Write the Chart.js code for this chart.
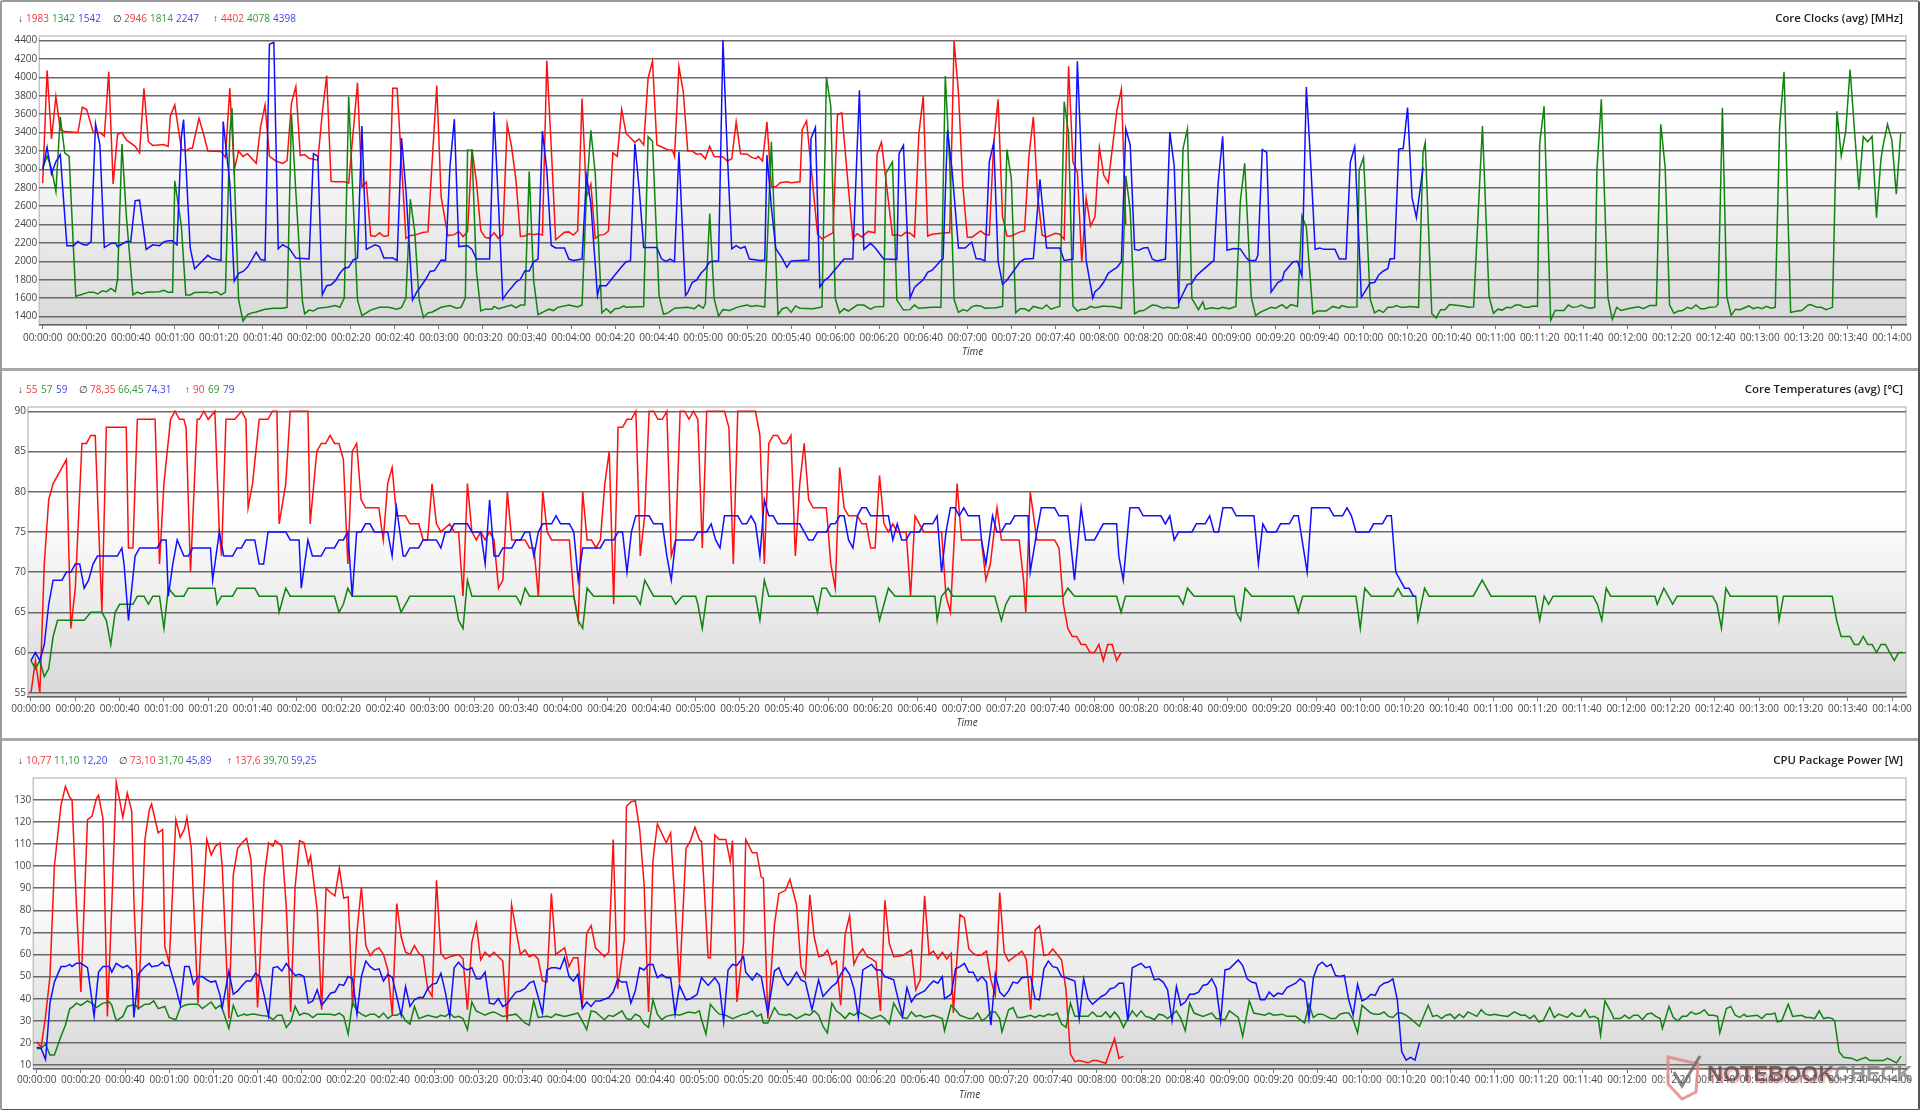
<!DOCTYPE html>
<html>
<head>
<meta charset="utf-8">
<title>Core clocks, temperatures and package power</title>
<script src="https://cdn.jsdelivr.net/npm/chart.js@4"></script>
<style>
html, body { margin: 0; padding: 0; background: #fff; }
body { position: relative; width: 1920px; height: 1110px; overflow: hidden; font-family: "Open Sans", sans-serif; }
canvas { position: absolute; left: 0; }
.frame { position: absolute; left: 0; top: 0; width: 1916px; height: 1107px; border: 2px solid #9a9a9a; border-radius: 3px; border-bottom-color: #555; border-right-color: #555; }
.sep { position: absolute; left: 0; width: 1920px; height: 3px; background: #a8a8a8; }
.stats { position: absolute; font-size: 10px; line-height: 14px; white-space: nowrap; }
.stats span { position: absolute; top: 0; }
.ptitle { position: absolute; right: 17px; font-size: 11.4px; line-height: 14px; font-weight: 600; color: #1c1c1c; }
.mark { position: absolute; left: 1707px; top: 1061px; font: bold 22px "Liberation Sans", sans-serif; white-space: nowrap; color: rgba(85,70,70,.78); text-shadow: 2px 2px 2px rgba(225,110,110,.55); }
.mark b { color: rgba(120,120,120,.75); text-shadow: none; }
</style>
</head>
<body>
<canvas id="clockChart" width="1920" height="368" style="top:0"></canvas>
<canvas id="tempChart" width="1920" height="367" style="top:371px"></canvas>
<canvas id="powerChart" width="1920" height="367" style="top:742px"></canvas>
<div class="sep" style="top:368px"></div>
<div class="sep" style="top:738px"></div>
<div class="frame"></div>
<div id="labels"></div>
<svg style="position:absolute;left:1660px;top:1050px" width="60" height="55">
  <path d="M8 7 L38 14 L36 42 L22 49 L8 34 Z" fill="none" stroke="#e08a8a" stroke-width="3" opacity=".85"/>
  <path d="M14 22 L22 36 L40 6" fill="none" stroke="#666" stroke-width="3" opacity=".8"/>
</svg>
<div class="mark">NOTEBOOK<b>CHECK</b></div>
<script>
// [seconds, value] pairs, only the corners of each line
var clockRed = [[0,2850],[2,4075],[4,3330],[6,3790],[8,3430],[10,3410],[16,3400],[18,3675],[20,3650],[23,3400],[26,3400],[28,3360],[30,4060],[32,2840],[34,3380],[36,3400],[38,3320],[42,3250],[44,3180],[46,3880],[48,3300],[50,3260],[55,3270],[57,3250],[58,3580],[60,3700],[63,3220],[65,3200],[67,3230],[68,3230],[71,3555],[73,3390],[75,3200],[81,3195],[83,3130],[85,3880],[87,2990],[89,3200],[91,3140],[93,3170],[97,3065],[99,3465],[101,3700],[103,3140],[106,3090],[109,3065],[111,3095],[113,3720],[115,3900],[117,3150],[119,3160],[121,3120],[125,3100],[127,3610],[129,4020],[131,2870],[133,2865],[137,2865],[139,2850],[143,3940],[145,2810],[147,2860],[149,2280],[151,2270],[153,2310],[155,2270],[157,2280],[159,3880],[161,3880],[165,2250],[167,2280],[169,2285],[173,2315],[175,2320],[179,3910],[181,2700],[184,2280],[187,2290],[189,2325],[191,2270],[193,2325],[195,3220],[197,2870],[199,2335],[201,2260],[203,2250],[205,2310],[207,2250],[209,2290],[211,3490],[213,3245],[215,2880],[217,2270],[219,2275],[221,2300],[223,2290],[225,2300],[227,2285],[229,4180],[231,3245],[233,2235],[235,2275],[237,2315],[239,2320],[241,2285],[243,2330],[245,3770],[247,2700],[249,2840],[251,2250],[253,2285],[255,2290],[257,2330],[259,3180],[261,3140],[263,3650],[265,3390],[269,3295],[271,3330],[273,3265],[275,3990],[277,4175],[279,3265],[281,3245],[284,3210],[286,3210],[287,3140],[289,4120],[291,3840],[293,3200],[295,3200],[297,3165],[299,3170],[301,3115],[303,3250],[305,3140],[309,3135],[311,3090],[313,3115],[315,3515],[317,3170],[320,3165],[322,3130],[324,3115],[325,3140],[327,3090],[329,3515],[331,2810],[333,2810],[335,2855],[338,2865],[340,2855],[344,2865],[345,3430],[347,3525],[352,2290],[354,2245],[359,2310],[361,3590],[363,3615],[368,2250],[370,2300],[372,2265],[375,2325],[378,2310],[379,3165],[381,3295],[386,2285],[388,2290],[390,2275],[392,2315],[394,2305],[396,2265],[398,3390],[400,3795],[402,2275],[404,2295],[410,2310],[412,2310],[414,4400],[416,3825],[418,2810],[420,2265],[422,2260],[426,2330],[428,2295],[430,2285],[432,3280],[434,3760],[436,2485],[438,2275],[440,2275],[444,2320],[446,2330],[448,3145],[450,3570],[452,2700],[454,2285],[456,2265],[460,2305],[462,2295],[464,2240],[466,4120],[468,3080],[470,2970],[472,1990],[474,2690],[476,2385],[478,2485],[480,3235],[482,2935],[484,2855],[488,3645],[490,3870],[492,2395]];
var clockGreen = [[0,3010],[2,3145],[4,3010],[6,2760],[8,3570],[10,3180],[12,3140],[15,1620],[17,1635],[21,1665],[23,1665],[25,1645],[27,1680],[29,1670],[31,1705],[33,1670],[34,1800],[36,3275],[38,2490],[41,1635],[43,1665],[45,1645],[47,1665],[53,1670],[55,1685],[57,1665],[59,1665],[60,2875],[63,2380],[65,1635],[67,1635],[69,1660],[75,1665],[76,1655],[79,1670],[81,1635],[83,1665],[85,3395],[86,3665],[89,1580],[91,1350],[93,1420],[95,1440],[97,1450],[101,1480],[105,1490],[109,1490],[111,1500],[113,3600],[115,2750],[118,1560],[119,1430],[121,1470],[123,1460],[125,1490],[129,1500],[133,1520],[135,1500],[137,1600],[139,3790],[141,2670],[143,1580],[145,1410],[147,1440],[149,1470],[153,1500],[157,1500],[161,1480],[163,1500],[165,1600],[167,2675],[169,2320],[171,1580],[173,1390],[175,1440],[177,1450],[181,1500],[185,1520],[188,1490],[190,1500],[192,1600],[193,3210],[195,3205],[197,1900],[199,1460],[201,1480],[204,1480],[205,1510],[207,1485],[213,1525],[215,1495],[217,1525],[219,1525],[221,2975],[223,1795],[225,1420],[230,1480],[232,1465],[234,1500],[239,1525],[243,1505],[245,1525],[247,2735],[249,3425],[251,2955],[254,1440],[256,1485],[258,1440],[260,1485],[262,1490],[264,1515],[265,1500],[273,1510],[275,3355],[277,3305],[280,1625],[282,1425],[284,1440],[287,1490],[293,1500],[296,1485],[298,1525],[300,1490],[301,1535],[303,2520],[305,1595],[307,1405],[309,1475],[312,1465],[316,1505],[320,1525],[322,1510],[324,1520],[328,1505],[331,3300],[334,1420],[336,1485],[338,1500],[340,1445],[342,1515],[344,1490],[350,1485],[354,1505],[356,4005],[358,3680],[360,1595],[362,1440],[364,1485],[366,1460],[370,1525],[373,1525],[376,1480],[378,1505],[382,1510],[383,2955],[386,3080],[388,1580],[391,1470],[394,1475],[396,1525],[398,1490],[404,1500],[408,1500],[410,4015],[412,3065],[414,1585],[416,1445],[418,1475],[420,1460],[422,1505],[424,1520],[426,1515],[428,1490],[433,1495],[436,1510],[438,3215],[440,2900],[442,1440],[444,1485],[446,1485],[448,1460],[450,1510],[454,1485],[456,1525],[458,1480],[461,1505],[462,1510],[464,3735],[466,3390],[468,1515],[470,1460],[472,1480],[474,1480],[476,1510],[478,1495],[482,1515],[484,1510],[486,1510],[490,1490],[492,2930],[494,2555],[496,1430],[498,1460],[500,1465],[504,1525],[506,1520],[509,1490],[511,1500],[514,1490],[516,1500],[518,3225],[520,3440],[522,1595],[525,1475],[527,1560],[528,1480],[531,1495],[534,1485],[536,1500],[539,1485],[542,1510],[544,2645],[546,3065],[549,1605],[551,1410],[553,1445],[558,1500],[560,1490],[563,1530],[565,1490],[567,1530],[570,1510],[572,2495],[574,2375],[577,1430],[579,1460],[583,1460],[586,1510],[589,1490],[590,1520],[593,1500],[597,1505],[598,2990],[600,3130],[603,1590],[605,1440],[607,1470],[609,1445],[611,1500],[613,1500],[615,1520],[617,1500],[619,1500],[621,1510],[625,1500],[627,3180],[628,3290],[631,1430],[633,1385],[635,1475],[637,1475],[639,1530],[645,1515],[648,1500],[650,1505],[654,3470],[657,1615],[659,1435],[661,1480],[663,1470],[665,1500],[667,1495],[669,1525],[671,1525],[673,1500],[675,1500],[677,1515],[679,1510],[680,3280],[682,3685],[685,1360],[687,1465],[691,1465],[693,1525],[695,1500],[697,1505],[699,1525],[701,1500],[703,1490],[705,1500],[706,2990],[708,3760],[711,1605],[713,1370],[715,1500],[717,1465],[721,1490],[725,1505],[727,1485],[730,1520],[733,1520],[735,3490],[737,3025],[739,1525],[741,1435],[743,1460],[745,1465],[747,1500],[749,1485],[751,1525],[753,1485],[755,1485],[757,1500],[760,1505],[761,1535],[763,3670],[765,1615],[767,1415],[769,1480],[771,1475],[775,1515],[777,1485],[779,1500],[781,1485],[783,1510],[785,1490],[787,1500],[789,3460],[791,4060],[794,1445],[797,1460],[799,1465],[802,1525],[803,1530],[806,1500],[808,1500],[810,1475],[813,1500],[815,3630],[817,3145],[819,3410],[821,4085],[823,3425],[825,2780],[827,3355],[829,3300],[831,3360],[833,2475],[835,3105],[836,3260],[838,3490],[840,3315],[842,2730],[844,3390]];
var clockBlue = [[0,3000],[2,3240],[4,2950],[6,3085],[8,3160],[11,2170],[14,2170],[16,2215],[18,2185],[20,2175],[22,2215],[24,3495],[26,3265],[28,2150],[31,2195],[33,2200],[34,2160],[38,2215],[40,2215],[42,2660],[44,2665],[47,2130],[50,2180],[53,2170],[55,2210],[57,2225],[59,2225],[61,2180],[63,3355],[64,3540],[67,2145],[69,1920],[75,2065],[77,2030],[81,2010],[82,3520],[85,2850],[87,1785],[89,1870],[91,1890],[93,1935],[97,2100],[99,2020],[101,2010],[103,4360],[105,4380],[107,2135],[109,2180],[112,2140],[115,2035],[121,2025],[123,3170],[125,3140],[127,1635],[129,1735],[131,1745],[133,1790],[135,1870],[137,1925],[139,1935],[141,2015],[143,2035],[145,3470],[147,2130],[151,2180],[153,2160],[155,2035],[159,2035],[161,2010],[163,3340],[165,2775],[168,1580],[170,1670],[174,1805],[176,1890],[178,1900],[181,2015],[183,2010],[185,3030],[187,3545],[189,2160],[193,2170],[195,2130],[197,2025],[203,2025],[205,3625],[207,2645],[209,1590],[211,1660],[213,1715],[215,1775],[217,1805],[219,1895],[221,1895],[223,1995],[225,2025],[227,3415],[229,2990],[231,2175],[233,2145],[237,2145],[239,2025],[241,2010],[245,2025],[247,2925],[249,2630],[252,1630],[253,1735],[256,1735],[260,1855],[263,1940],[265,1995],[267,2005],[269,3280],[271,2775],[273,2150],[279,2150],[281,2030],[283,2000],[285,2025],[287,1995],[289,3190],[292,1630],[293,1660],[295,1770],[297,1795],[299,1870],[301,1920],[303,1995],[307,2005],[309,4400],[311,3170],[313,2135],[315,2170],[317,2140],[319,2160],[321,2025],[326,2010],[328,2015],[329,3155],[331,2590],[333,2140],[336,2030],[338,1935],[340,2005],[348,2015],[349,3335],[351,3455],[353,1720],[355,1790],[357,1825],[359,1885],[364,2025],[368,2025],[371,3860],[373,2130],[376,2195],[378,2150],[379,2120],[382,2025],[388,2020],[389,3170],[391,3260],[394,1600],[396,1715],[398,1760],[400,1800],[402,1880],[404,1905],[406,1955],[408,2010],[409,2025],[411,3425],[413,3010],[416,2145],[419,2145],[422,2210],[424,2030],[426,2025],[428,2005],[430,3080],[432,3290],[434,2000],[436,1750],[438,1795],[444,1995],[446,2025],[450,2030],[452,2590],[453,2890],[456,2145],[462,2145],[464,2010],[468,2025],[470,4175],[472,2990],[474,2010],[477,1600],[478,1670],[480,1710],[482,1775],[484,1870],[486,1905],[488,1935],[490,1995],[492,3440],[494,3265],[496,2130],[498,2120],[500,2145],[502,2150],[504,2025],[506,2005],[510,2025],[512,3405],[514,3035],[516,1550],[520,1750],[522,1760],[524,1840],[526,1885],[530,1970],[532,2010],[534,2865],[536,3360],[538,2120],[541,2140],[544,2135],[547,2030],[548,2010],[551,2010],[552,2065],[554,3215],[556,3185],[558,1665],[561,1770],[563,1795],[564,1885],[568,1995],[570,2000],[572,1840],[574,3895],[576,3060],[578,2130],[580,2145],[582,2130],[587,2130],[589,2025],[592,2025],[594,3080],[596,3245],[599,1610],[601,1685],[603,1765],[605,1770],[607,1855],[609,1895],[611,1920],[612,2025],[614,2030],[616,3220],[618,3225],[620,3670],[622,2695],[624,2475],[627,3020]];

var tempRed = [[0,55],[2,59],[4,55],[6,71],[8,79],[10,81],[12,82],[16,84],[18,63],[20,68],[23,86],[25,86],[27,87],[29,87],[32,65],[34,88],[43,88],[44,73],[46,73],[48,89],[56,89],[58,71],[60,81],[63,89],[65,90],[67,89],[69,89],[70,88],[72,70],[75,89],[76,89],[78,90],[80,89],[83,90],[85,75],[86,72],[88,89],[92,89],[95,90],[97,89],[98,78],[100,81],[103,89],[107,89],[109,90],[111,90],[112,76],[115,81],[117,90],[125,90],[126,76],[129,85],[131,86],[133,86],[135,87],[137,86],[139,86],[141,84],[143,71],[145,85],[147,86],[149,79],[151,78],[157,78],[159,74],[161,81],[163,83],[165,77],[169,77],[171,76],[175,76],[177,74],[179,74],[181,81],[183,76],[185,75],[189,76],[191,75],[193,75],[195,67],[197,81],[199,75],[201,74],[203,75],[205,74],[207,75],[209,74],[211,68],[213,69],[215,80],[217,74],[223,74],[225,73],[227,73],[229,67],[231,80],[233,75],[235,74],[243,74],[245,67],[247,64],[249,80],[251,74],[253,74],[255,73],[257,74],[259,81],[261,85],[263,66],[265,88],[267,88],[269,89],[271,89],[273,90],[275,72],[277,77],[279,90],[281,90],[283,89],[285,89],[287,90],[289,72],[291,74],[293,90],[295,90],[297,89],[299,90],[301,89],[303,73],[305,90],[313,90],[315,88],[317,71],[319,90],[327,90],[329,87],[331,71],[333,86],[335,87],[337,87],[339,86],[341,86],[343,87],[345,72],[347,81],[349,86],[351,79],[353,78],[359,78],[361,71],[363,68],[365,83],[367,78],[369,77],[373,77],[375,76],[377,76],[379,73],[381,73],[383,82],[385,76],[387,75],[389,76],[391,75],[395,75],[397,67],[399,77],[403,75],[411,75],[413,67],[415,65],[418,81],[420,74],[429,74],[431,69],[433,71],[436,78],[438,74],[446,74],[448,69],[449,65],[451,80],[454,74],[462,74],[464,73],[466,66],[468,63],[470,62],[472,62],[474,61],[476,61],[478,60],[480,60],[482,61],[484,59],[486,61],[488,61],[490,59],[492,60]];
var tempGreen = [[0,59],[2,58],[4,59],[6,57],[8,58],[10,62],[12,64],[24,64],[27,65],[32,65],[34,64],[36,61],[38,65],[40,66],[46,66],[48,67],[51,67],[53,66],[55,67],[58,67],[60,63],[62,68],[65,67],[69,67],[71,68],[83,68],[84,66],[86,67],[91,67],[93,68],[101,68],[103,67],[111,67],[112,65],[115,68],[117,67],[137,67],[139,65],[141,66],[143,68],[145,67],[165,67],[167,65],[169,66],[171,67],[191,67],[193,64],[195,63],[197,69],[199,67],[219,67],[221,66],[223,68],[225,67],[245,67],[247,64],[249,63],[251,68],[254,67],[273,67],[275,66],[277,69],[281,67],[289,67],[291,66],[294,67],[300,67],[301,66],[303,63],[305,67],[327,67],[329,64],[331,69],[333,67],[353,67],[355,65],[357,68],[359,68],[361,67],[381,67],[383,64],[385,66],[387,68],[390,67],[408,67],[409,64],[411,67],[414,68],[416,67],[435,67],[438,64],[440,66],[442,67],[466,67],[468,68],[471,67],[490,67],[492,65],[494,67],[518,67],[520,66],[522,68],[525,67],[543,67],[544,65],[546,64],[548,68],[551,67],[570,67],[572,65],[574,67],[598,67],[600,63],[602,68],[605,67],[615,67],[617,68],[619,67],[625,67],[626,64],[629,68],[631,67],[651,67],[655,69],[659,67],[679,67],[681,64],[683,67],[685,66],[687,67],[705,67],[707,66],[709,64],[711,68],[713,67],[733,67],[734,66],[737,68],[739,67],[741,66],[743,67],[759,67],[761,66],[763,63],[765,68],[767,67],[788,67],[789,64],[791,67],[813,67],[815,64],[817,62],[821,62],[823,61],[825,61],[827,62],[829,61],[831,61],[833,60],[835,61],[837,61],[839,60],[841,59],[843,60],[845,60]];
var tempBlue = [[0,59],[2,60],[4,59],[6,61],[8,66],[10,69],[14,69],[16,70],[18,70],[20,71],[22,71],[24,68],[26,69],[28,71],[30,72],[39,72],[41,73],[42,71],[44,64],[47,72],[49,73],[57,73],[59,74],[61,74],[62,67],[64,71],[66,74],[69,72],[71,72],[73,73],[81,73],[82,69],[85,75],[87,72],[91,72],[93,73],[95,73],[97,74],[101,74],[103,71],[105,71],[107,75],[115,75],[117,74],[121,74],[122,68],[125,74],[127,72],[131,72],[133,73],[137,73],[139,74],[141,74],[143,75],[145,67],[147,75],[149,75],[151,76],[153,76],[155,75],[161,75],[163,72],[165,78],[168,72],[169,72],[171,73],[175,73],[177,74],[183,74],[185,73],[187,75],[189,75],[191,76],[197,76],[199,75],[203,75],[205,71],[207,79],[209,72],[211,72],[213,73],[217,73],[219,74],[221,74],[223,75],[225,75],[227,72],[229,75],[231,76],[235,76],[237,77],[239,76],[243,76],[245,75],[247,69],[249,73],[257,73],[259,74],[263,74],[265,75],[267,75],[269,70],[271,75],[273,77],[279,77],[281,76],[285,76],[287,72],[289,69],[291,74],[299,74],[301,75],[305,75],[307,76],[309,74],[311,73],[313,77],[319,77],[321,76],[323,76],[325,77],[327,76],[329,72],[331,79],[333,77],[335,77],[337,76],[347,76],[349,75],[351,74],[353,74],[355,75],[359,75],[361,76],[363,76],[365,77],[367,77],[369,74],[371,73],[373,77],[375,78],[377,78],[379,77],[387,77],[389,74],[391,76],[393,74],[395,74],[397,75],[401,75],[403,76],[407,76],[409,77],[411,70],[413,75],[415,78],[417,78],[419,77],[421,78],[423,77],[428,77],[429,74],[431,71],[434,77],[436,75],[438,75],[440,76],[442,76],[444,77],[450,77],[451,70],[454,75],[456,78],[462,78],[464,77],[468,77],[471,69],[474,78],[476,74],[480,74],[484,76],[490,76],[491,72],[493,69],[496,78],[500,78],[502,77],[510,77],[512,76],[514,77],[516,74],[518,75],[524,75],[526,76],[530,76],[532,77],[534,75],[536,75],[538,78],[542,78],[544,77],[552,77],[554,71],[556,76],[558,75],[562,75],[564,76],[568,76],[570,77],[572,77],[576,70],[578,78],[586,78],[588,77],[592,77],[594,78],[596,77],[598,75],[604,75],[606,76],[610,76],[612,77],[614,77],[616,70],[618,69],[620,68],[622,68],[624,67],[625,67]];

var powerRed = [[0,20.5],[2,18],[4,32],[6,50],[8,100],[11,127.5],[13,136],[15,131],[16,130],[18,82],[20,43],[23,121],[25,122.5],[27,130.5],[28,132],[30,121.5],[32,32],[34,82],[36,138],[39,122],[41,133],[43,125],[44,85],[46,35],[49,112],[51,125.5],[52,128],[55,115],[57,116.5],[58,63.5],[60,56],[63,121],[65,113],[67,117],[68,122],[70,108],[73,38],[75,78.5],[77,112],[79,105],[81,109],[83,110.5],[84,100],[87,31],[89,96],[91,108],[93,110.5],[95,112.5],[97,103],[98,83],[100,36],[103,95],[105,110.5],[107,109],[108,111.5],[111,109],[113,81.5],[115,34],[117,90.5],[119,111.5],[121,110.5],[123,101],[124,104.5],[127,80],[129,35],[131,90],[133,88],[135,86.5],[137,99],[139,85.5],[141,86],[143,36],[145,70],[147,90.5],[149,64],[151,59.5],[153,62],[155,63],[157,60],[159,53],[161,32.5],[163,83],[165,68],[167,61],[169,60],[171,64],[173,60.5],[175,59],[177,44.5],[179,41],[181,93.5],[183,60.5],[185,58],[187,59],[191,60],[193,58],[195,35],[197,65.5],[199,74],[201,57.5],[203,61],[205,59],[207,61],[211,57],[213,29.5],[215,82.5],[217,71],[219,60],[221,62],[223,59],[225,60],[227,58],[229,48],[231,47.5],[233,87.5],[235,60],[239,63],[241,54.5],[243,58.5],[245,58.5],[247,36.5],[249,69.5],[251,73],[253,63],[257,59],[259,61],[261,112],[263,44.5],[266,66.5],[267,127],[269,129],[271,129.5],[273,116.5],[275,91.5],[277,34],[279,102.5],[281,119],[285,110.5],[287,115],[289,83],[291,47],[294,108],[296,111.5],[298,117.5],[300,112],[301,111],[304,58.5],[305,58.5],[307,114],[309,112],[312,112],[314,102],[315,111.5],[317,38.5],[320,65],[321,112],[324,106],[326,106],[328,95],[329,94.5],[331,31],[334,73.5],[336,87.5],[339,89],[341,94],[344,82.5],[346,54.5],[348,49.5],[350,87],[352,68],[354,59],[356,59.5],[358,62],[360,55.5],[362,57],[364,37],[366,69],[368,77.5],[370,55.5],[372,60],[374,62.5],[376,59],[378,58],[380,56.5],[382,34.5],[384,84.5],[386,65],[388,59],[392,59.5],[396,62],[398,44],[400,48.5],[402,86.5],[404,60],[406,61.5],[408,58],[410,61],[412,58],[414,60.5],[415,33.5],[418,78],[420,76.5],[422,62.5],[424,60.5],[426,59.5],[428,60],[430,61.5],[432,48.5],[434,41.5],[436,88],[438,61],[440,57],[446,61.5],[448,58],[450,35],[452,71],[454,73],[456,59.5],[458,60],[460,62.5],[464,57.5],[466,44],[468,15],[470,11.5],[472,12],[476,11],[478,12],[480,12],[484,10.8],[488,22],[490,13],[492,14]];
var powerGreen = [[0,17.5],[2,17.5],[4,19.5],[6,14.5],[8,14.5],[11,23],[13,28],[15,35.5],[16,36],[18,38],[20,37],[23,39],[25,38],[27,36],[30,38],[33,38.5],[34,37],[36,30],[39,32],[41,36.5],[43,37],[45,37],[46,35.5],[49,37.5],[51,37.5],[53,39],[55,35.5],[58,36.5],[60,31.5],[63,30.5],[65,36],[67,37],[69,37.5],[73,37.5],[75,35.5],[79,38.5],[81,35.5],[83,37],[84,35.5],[87,26.5],[89,37],[91,32],[94,33],[95,32.5],[97,33],[99,33],[101,32.5],[105,32],[107,30.5],[109,32.5],[111,32.5],[113,27],[115,29.5],[117,36.5],[119,32.5],[121,33.5],[123,33],[125,31.5],[127,33],[129,33],[133,33],[135,32.5],[137,33.5],[139,32],[141,24],[143,38.5],[145,34.5],[147,33],[149,32],[151,33],[153,33],[155,31.5],[157,33.5],[159,31],[161,32.5],[163,32.5],[165,33.5],[167,30],[169,28.5],[171,36.5],[173,31],[177,32.5],[181,31.5],[183,32.5],[185,32],[187,33.5],[189,31.5],[191,32],[193,31],[195,26],[197,38.5],[199,34.5],[201,33.5],[203,32.5],[205,33.5],[207,34],[209,33],[211,32],[217,33],[219,31],[221,29],[223,28],[225,39],[227,31.5],[231,32],[233,31.5],[235,33],[239,32],[243,33],[245,33.5],[247,30],[249,26],[251,34.5],[253,34],[257,30.5],[259,32.5],[261,32],[265,34.5],[267,31],[269,30.5],[271,33],[273,32],[275,28.5],[277,27],[279,39.5],[281,33],[283,30.5],[285,32],[289,33],[291,32.5],[295,34],[298,33.5],[300,34.5],[301,30.5],[303,24],[305,37.5],[307,35],[309,33],[312,32.5],[315,31],[320,33],[321,33],[324,34.5],[326,32],[328,33],[329,29],[331,29],[334,36],[336,33],[339,32.5],[341,33],[344,31],[348,33],[350,32.5],[352,34.5],[354,32.5],[356,27.5],[358,24.5],[360,38],[362,34.5],[364,33],[366,31],[368,33.5],[370,32.5],[372,34],[374,33],[378,31],[382,32.5],[384,31],[386,28.5],[388,38],[390,34.5],[392,31.5],[394,31],[396,34],[398,32],[400,32.5],[402,31.5],[406,32.5],[410,31],[411,25.5],[414,37],[416,35],[418,32.5],[422,31],[424,31],[426,33.5],[428,30],[430,31.5],[432,34],[434,34],[436,31],[437,25],[440,35],[442,36],[444,31.5],[446,31.5],[450,32.5],[452,31.5],[454,32.5],[456,32],[458,33],[460,32.5],[462,33.5],[464,28.5],[466,27],[468,38],[470,32],[476,32],[478,34],[480,32],[482,32],[484,34],[486,31.5],[488,34],[490,31.5],[492,27],[494,31],[496,34.5],[498,32],[500,34.5],[502,32],[504,31.5],[506,30.5],[508,33],[510,32.5],[512,31],[516,34.5],[518,31],[520,25.5],[522,38],[524,33.5],[528,32],[532,33.5],[534,31],[538,30.5],[540,34.5],[544,31.5],[546,23],[549,39],[551,33.5],[556,32.5],[558,33.5],[560,32.5],[564,33],[566,32],[570,32],[574,29],[576,37.5],[578,31.5],[580,33],[582,33],[584,32],[586,31],[588,31],[590,33],[592,33.5],[594,33.5],[596,30.5],[598,24.5],[600,37],[604,33.5],[606,33],[608,33],[610,34],[612,32],[614,31.5],[616,33.5],[618,33.5],[620,32.5],[622,31],[626,27.5],[630,37],[632,32],[634,32.5],[636,31],[638,32.5],[640,33],[642,31],[644,33],[646,31.5],[648,34],[650,33],[652,32],[654,35],[656,33],[658,32.5],[660,33],[662,32.5],[666,32],[669,34],[672,32.5],[674,32.5],[676,31],[678,32.5],[680,29.5],[682,30],[685,36],[687,31.5],[689,33],[693,31.5],[695,33.5],[697,32],[699,32],[701,35],[703,31.5],[705,32],[707,31],[708,23.5],[710,39],[713,33.5],[714,31],[717,31],[719,32.5],[721,31],[723,32.5],[725,32.5],[727,30.5],[729,33],[731,33.5],[733,32],[735,31],[736,26.5],[739,36.5],[741,31.5],[743,30],[745,32],[747,32],[749,34],[751,33],[753,33.5],[755,35],[757,32.5],[759,32.5],[761,32],[762,24.5],[765,35.5],[767,36.5],[769,32.5],[771,31.5],[773,33],[774,32],[779,32.5],[781,31],[783,33],[785,33],[787,33.5],[788,29.5],[790,30],[793,37.5],[795,32],[799,32.5],[801,31.5],[803,31.5],[805,31],[807,34.5],[809,31],[811,31.5],[813,31],[814,30],[816,16],[818,13.5],[822,13],[824,12],[828,13.5],[830,12],[834,12],[836,12],[838,13],[842,11],[844,14]];
var powerBlue = [[0,18],[2,17.5],[4,12.5],[6,38],[8,47.5],[11,54.5],[13,54.5],[15,55.5],[16,54.5],[18,56],[20,56],[23,54],[26,32],[28,52],[30,54.5],[33,54.5],[34,52],[36,56],[39,54],[41,55],[43,53],[44,31.5],[46,51],[49,54.5],[51,56],[52,54.5],[55,55],[57,56.5],[58,55],[60,55],[63,45],[65,37],[67,54.5],[69,54.5],[71,46.5],[73,50],[75,50],[77,48.5],[79,47.5],[81,48],[83,41.5],[84,36],[87,52.5],[89,42],[91,43.5],[93,46],[95,48],[97,48],[99,51.5],[101,50],[103,41.5],[105,32],[107,54],[109,54.5],[111,52.5],[113,56],[115,53],[117,50.5],[119,51],[121,50],[123,38],[125,39],[127,44],[129,37],[131,39.5],[133,42.5],[135,43],[137,46.5],[139,46],[141,50],[143,49],[145,33],[147,50],[149,57],[151,54.5],[153,53],[155,53.5],[157,48],[159,51],[161,49.5],[163,41],[165,32.5],[167,45.5],[169,36.5],[171,39.5],[173,40.5],[175,40.5],[177,44.5],[179,46.5],[181,47],[183,51.5],[185,43],[187,32],[189,54],[191,56.5],[193,54],[195,53],[197,54],[199,49],[201,49],[203,52],[205,38],[207,37.5],[209,40],[211,36.5],[213,37.5],[215,40.5],[217,43],[219,43.5],[221,44.5],[223,47],[225,48],[227,41],[229,33.5],[231,53],[233,54],[235,54],[237,53.5],[239,58.5],[241,50],[243,48],[245,51],[247,35.5],[249,38.5],[251,36.5],[253,39],[255,39],[259,40.5],[261,43],[263,48.5],[265,47.5],[267,47.5],[269,38],[271,43.5],[273,54],[275,53],[277,55.5],[279,55.5],[281,49.5],[283,51],[285,49.5],[287,49.5],[289,33],[291,46],[294,39.5],[296,40],[299,42],[301,49.5],[304,46],[307,49.5],[309,46.5],[311,29.5],[313,53],[315,55.5],[317,55],[320,59],[321,52],[324,48.5],[326,51.5],[328,50],[331,33.5],[334,52.5],[336,54],[338,49],[340,46],[341,47],[344,52],[346,48.5],[348,47.5],[351,35],[354,48.5],[356,41],[360,45.5],[362,47],[364,51],[366,54],[368,51],[370,44.5],[372,31.5],[374,53],[378,55.5],[380,53],[382,53],[384,50],[388,48.5],[389,44],[392,32],[394,45],[396,38.5],[398,41.5],[402,43.5],[404,46],[406,48],[408,47],[410,50],[411,40],[414,42],[416,53.5],[418,54.5],[420,56],[422,52],[424,52],[426,48],[428,50],[430,47.5],[432,28],[434,51],[436,43],[438,41],[440,43.5],[442,47.5],[444,47],[446,49.5],[450,50],[452,40],[454,39.5],[456,53.5],[458,57],[460,54.5],[462,54],[464,50],[466,49.5],[470,48],[472,31],[474,49],[476,40],[478,37.5],[482,41],[484,42],[486,44.5],[488,45],[490,47],[492,47],[494,30],[496,54],[500,56],[502,54],[504,54.5],[506,48.5],[508,49],[510,47.5],[512,44],[514,30],[516,45.5],[518,37],[520,38.5],[522,42],[524,42],[526,43],[528,46],[530,46.5],[532,49],[534,45],[536,30],[538,53],[540,53.5],[544,57.5],[546,55],[548,49],[550,47.5],[552,47],[554,39.5],[556,39.5],[558,43],[560,41],[562,42.5],[564,42],[566,45],[570,47],[572,49],[574,47.5],[576,31],[578,49.5],[580,55],[582,56.5],[584,54.5],[586,55.5],[588,50.5],[590,50],[592,50.5],[594,39.5],[596,32.5],[598,46.5],[600,39],[602,40],[604,42],[606,41.5],[608,45.5],[610,47],[612,47.5],[614,49],[616,39.5],[618,16],[620,12.2],[622,13.5],[624,12.2],[626,20]];

var timeTicks = [0,20,40,60,80,100,120,140,160,180,200,220,240,260,280,300,320,340,360,380,400,420,440,460,480,500,520,540,560,580,600,620,640,660,680,700,720,740,760,780,800,820,840];
var clockTicks = [1400,1600,1800,2000,2200,2400,2600,2800,3000,3200,3400,3600,3800,4000,4200,4400];
var tempTicks = [55,60,65,70,75,80,85,90];
var powerTicks = [10,20,30,40,50,60,70,80,90,100,110,120,130];

var clockStats = [["1983","1342","1542"],["2946","1814","2247"],["4402","4078","4398"]];
var tempStats = [["55","57","59"],["78,35","66,45","74,31"],["90","69","79"]];
var powerStats = [["10,77","11,10","12,20"],["73,10","31,70","45,89"],["137,6","39,70","59,25"]];

var lineColors = ['#ff1010', '#0f840f', '#1010ff'];
var textColors = ['#f5383c', '#2f9a3a', '#3c48f0'];

function timeLabel(sec) {
    var m = Math.floor(sec / 60);
    var s = sec % 60;
    return '00:' + (m < 10 ? '0' : '') + m + ':' + (s < 10 ? '0' : '') + s;
}

// white upper part, then fading to grey, like the logging tool does it
var plotBackground = {
    id: 'plotBackground',
    beforeDraw: function (chart) {
        var a = chart.chartArea;
        var c = chart.ctx;
        var g = c.createLinearGradient(0, a.top, 0, a.bottom);
        g.addColorStop(0, '#ffffff');
        g.addColorStop(0.38, '#ffffff');
        g.addColorStop(0.42, '#fbfbfb');
        g.addColorStop(1, '#d8d8d8');
        c.save();
        c.fillStyle = g;
        c.fillRect(a.left, a.top, a.right - a.left, a.bottom - a.top);
        c.strokeStyle = '#c4c4c4';
        c.lineWidth = 1.5;
        c.strokeRect(a.left, a.top, a.right - a.left, a.bottom - a.top);
        c.restore();
    }
};

function drawPanel(id, series, yTicks, yMin, yMax, xMin, xMax, yWidth, xHeight, titleGap, xPad) {
    var ctx = document.getElementById(id).getContext('2d');
    return new Chart(ctx, {
        type: 'line',
        data: {
            datasets: series.map(function (s, i) {
                return {
                    data: s,
                    borderColor: lineColors[i],
                    borderWidth: 1.5,
                    pointRadius: 0,
                    tension: 0,
                    order: 3 - i
                };
            })
        },
        options: {
            responsive: false,
            animation: false,
            devicePixelRatio: 1,
            layout: { padding: { top: 36, right: 14, left: 0, bottom: 0 } },
            plugins: { legend: { display: false }, tooltip: { enabled: false } },
            scales: {
                x: {
                    type: 'linear',
                    min: xMin,
                    max: xMax,
                    afterBuildTicks: function (axis) {
                        axis.ticks = timeTicks.map(function (t) { return { value: t }; });
                    },
                    afterFit: function (axis) { axis.height = xHeight; },
                    grid: { drawOnChartArea: false, drawTicks: true, tickLength: 4, color: '#777' },
                    border: { color: '#666', width: 1.5 },
                    ticks: {
                        autoSkip: false,
                        maxRotation: 0,
                        minRotation: 0,
                        padding: xPad,
                        color: '#444',
                        font: { family: 'Open Sans', size: 10 },
                        callback: function (v) { return timeLabel(v); }
                    },
                    title: {
                        display: true,
                        text: 'Time',
                        color: '#333',
                        font: { family: 'Open Sans', size: 10, style: 'italic' },
                        padding: { top: 0, bottom: titleGap }
                    }
                },
                y: {
                    min: yMin,
                    max: yMax,
                    afterBuildTicks: function (axis) {
                        axis.ticks = yTicks.map(function (t) { return { value: t }; });
                    },
                    afterFit: function (axis) { axis.width = yWidth; },
                    grid: { color: '#6a6a6a', lineWidth: 1.4, drawTicks: false },
                    border: { display: false },
                    ticks: {
                        padding: 2,
                        color: '#444',
                        font: { family: 'Open Sans', size: 10 },
                        callback: function (v) { return String(v); }
                    }
                }
            }
        },
        plugins: [plotBackground]
    });
}

drawPanel('clockChart', [clockRed, clockGreen, clockBlue], clockTicks, 1308, 4449, -1.54, 846.4, 39.3, 43, 10, 3);
drawPanel('tempChart', [tempRed, tempGreen, tempBlue], tempTicks, 54.47, 90.53, -1.35, 846.3, 28, 41, 9, 2);
drawPanel('powerChart', [powerRed, powerGreen, powerBlue], powerTicks, 8.2, 139.8, -1.54, 846.3, 33.3, 40, 8, 1);

// min / average / max lines and the panel names above each plot
function addStats(stats, top, groups, valueGap) {
    var symbols = ['\u2193', '\u2205', '\u2191'];
    var box = document.createElement('div');
    box.className = 'stats';
    box.style.top = top + 'px';
    box.style.left = '0';
    stats.forEach(function (group, g) {
        var sym = document.createElement('span');
        sym.textContent = symbols[g];
        sym.style.left = (g === 1 ? groups[g] - 3 : groups[g]) + 'px';
        sym.style.color = '#333';
        box.appendChild(sym);
        group.forEach(function (val, i) {
            var el = document.createElement('span');
            el.textContent = val;
            el.style.left = (groups[g] + 8 + i * valueGap[g]) + 'px';
            el.style.color = textColors[i];
            box.appendChild(el);
        });
    });
    document.getElementById('labels').appendChild(box);
}

function addTitle(text, top) {
    var el = document.createElement('div');
    el.className = 'ptitle';
    el.textContent = text;
    el.style.top = top + 'px';
    document.getElementById('labels').appendChild(el);
}

addStats(clockStats, 11, [18, 116, 213], [26, 26, 26]);
addStats(tempStats, 382, [18, 82, 185], [15, 28, 15]);
addStats(powerStats, 753, [18, 122, 227], [28, 28, 28]);

addTitle('Core Clocks (avg) [MHz]', 11);
addTitle('Core Temperatures (avg) [\u00B0C]', 382);
addTitle('CPU Package Power [W]', 753);
</script>
</body>
</html>
